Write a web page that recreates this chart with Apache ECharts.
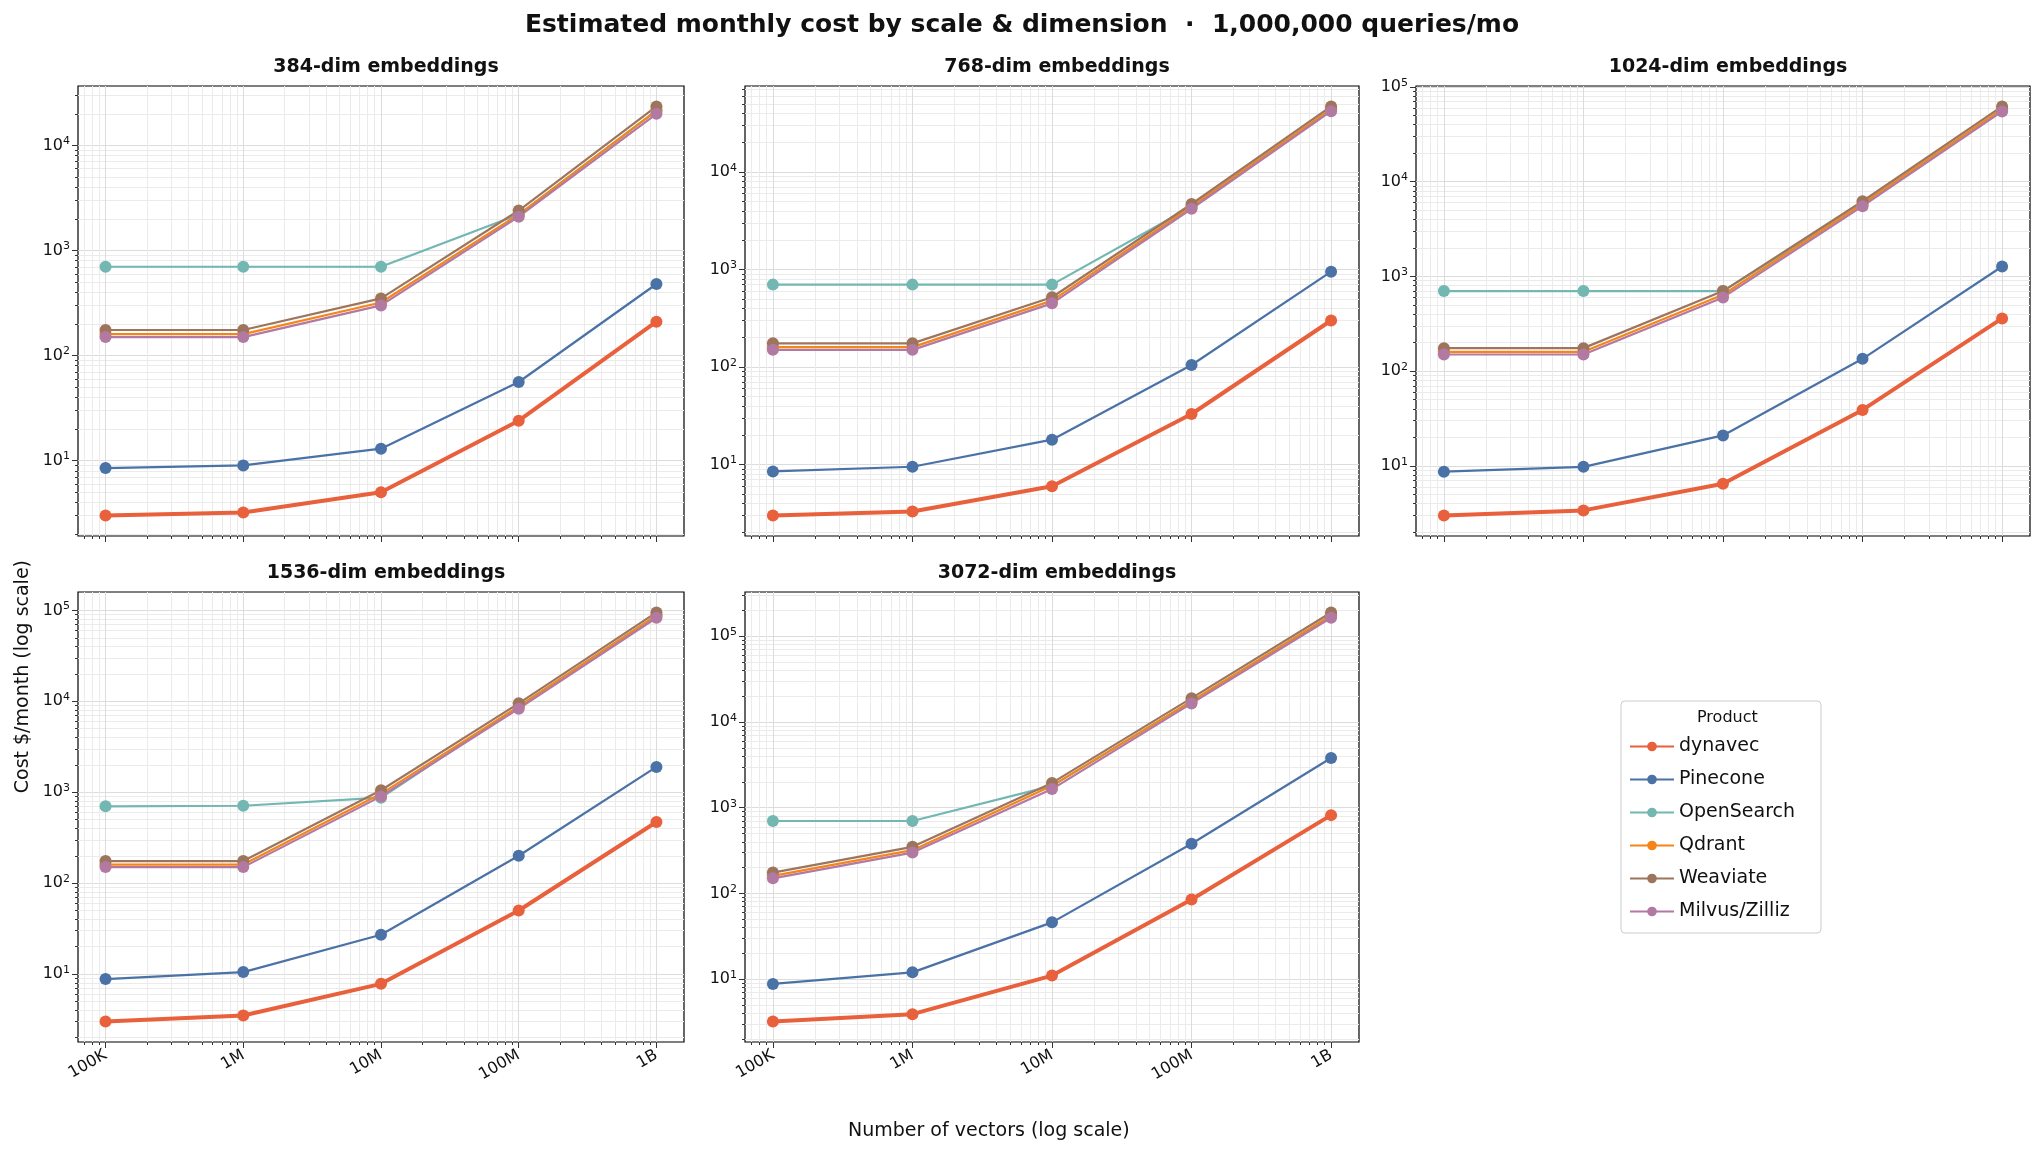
<!DOCTYPE html>
<html>
<head>
<meta charset="utf-8">
<style>
  html, body { margin: 0; padding: 0; background: #fff; }
  #chart { width: 2044px; height: 1160px; }
</style>
</head>
<body>
<div id="chart"></div>
<script src="https://cdn.jsdelivr.net/npm/echarts@6/dist/echarts.min.js"></script>
<script>
// data
var vectorCounts = [1e5, 1e6, 1e7, 1e8, 1e9];
var vectorLabels = ['100K', '1M', '10M', '100M', '1B'];
var dims = ['384', '768', '1024', '1536', '3072'];
var products = ['dynavec', 'Pinecone', 'OpenSearch', 'Qdrant', 'Weaviate', 'Milvus/Zilliz'];

var dynavec = [
  [3, 3.2, 5, 24, 210],
  [3, 3.3, 6, 33, 300],
  [3, 3.4, 6.5, 39, 360],
  [3, 3.5, 7.8, 50, 470],
  [3.2, 3.9, 11, 85, 820]
];
var pinecone = [
  [8.5, 9, 13, 56, 480],
  [8.5, 9.5, 18, 105, 950],
  [8.7, 9.8, 21, 135, 1270],
  [8.8, 10.5, 27, 200, 1900],
  [8.8, 12, 46, 380, 3800]
];
var opensearch = [
  [700, 700, 700, 2200, 21500],
  [700, 700, 700, 4400, 44000],
  [700, 700, 700, 5800, 58000],
  [700, 710, 870, 8800, 88000],
  [700, 700, 1800, 17500, 175000]
];
var qdrant = [
  [160, 160, 320, 2200, 21500],
  [160, 160, 480, 4400, 44000],
  [160, 160, 640, 5800, 58000],
  [160, 160, 960, 8800, 88000],
  [160, 320, 1800, 17500, 175000]
];
var weaviate = [
  [175, 175, 350, 2400, 23500],
  [175, 175, 520, 4700, 47000],
  [175, 175, 700, 6200, 62000],
  [175, 175, 1050, 9500, 95000],
  [175, 350, 1950, 19000, 190000]
];
var milvus = [
  [150, 150, 300, 2100, 20000],
  [150, 150, 450, 4200, 42000],
  [150, 150, 600, 5500, 55000],
  [150, 150, 900, 8300, 83000],
  [150, 300, 1650, 16500, 165000]
];

var allSeries = [dynavec, pinecone, opensearch, qdrant, weaviate, milvus];
var colors = ['#e8603c', '#4a72a6', '#72b7b2', '#f58518', '#9d755d', '#b279a2'];
var widths = [4, 2.2, 2.2, 2.2, 2.2, 2.2];

var rects = [
  {left: 78, top: 86, width: 606, height: 450},
  {left: 745, top: 86, width: 614, height: 450},
  {left: 1416, top: 86, width: 614, height: 450},
  {left: 78, top: 592, width: 606, height: 450},
  {left: 745, top: 592, width: 614, height: 450}
];

function lg(v) { return Math.log10(v); }
function minorList(lo, hi) {
  var out = [];
  for (var e = Math.floor(lo) - 1; e <= Math.ceil(hi); e++) {
    for (var k = 1; k <= 9; k++) {
      var v = e + Math.log10(k);
      if (v >= lo && v <= hi) out.push(v);
    }
  }
  return out;
}
function majorList(lo, hi) {
  var out = [];
  for (var e = Math.ceil(lo); e <= Math.floor(hi); e++) out.push(e);
  return out;
}

var xLo = 4.8, xHi = 9.2;
var grids = [], xAxes = [], yAxes = [], series = [], titles = [];

dims.forEach(function (d, i) {
  var r = rects[i];
  grids.push({left: r.left, top: r.top, width: r.width, height: r.height, show: true,
    borderColor: '#000', borderWidth: 1.2});
  titles.push({text: d + '-dim embeddings', left: r.left + r.width / 2, top: r.top - 33,
    textAlign: 'center', textStyle: {fontSize: 19, fontWeight: 'bold', color: '#111', fontFamily: 'DejaVu Sans'}});

  var vals = [];
  allSeries.forEach(function (s) { vals = vals.concat(s[i]); });
  var ymin = lg(Math.min.apply(null, vals)), ymax = lg(Math.max.apply(null, vals));
  var pad = (ymax - ymin) * 0.05;
  var yLo = ymin - pad, yHi = ymax + pad;
  var showX = (i >= 3);

  // minor grid axes
  xAxes.push({gridIndex: i, type: 'value', min: xLo, max: xHi, position: 'bottom',
    axisLine: {show: false}, axisLabel: {show: false},
    axisTick: {show: true, length: 3, customValues: minorList(xLo, xHi), lineStyle: {color: '#333'}},
    splitLine: {show: true, lineStyle: {color: '#ebebeb', width: 1}}});
  yAxes.push({gridIndex: i, type: 'value', min: yLo, max: yHi, position: 'left',
    axisLine: {show: false}, axisLabel: {show: false},
    axisTick: {show: true, length: 3, customValues: minorList(yLo, yHi), lineStyle: {color: '#333'}},
    splitLine: {show: true, lineStyle: {color: '#ebebeb', width: 1}}});
  // major axes
  xAxes.push({gridIndex: i, type: 'value', min: xLo, max: xHi, position: 'bottom',
    axisLine: {show: false},
    axisTick: {show: true, length: 6, customValues: [5, 6, 7, 8, 9], lineStyle: {color: '#333'}},
    axisLabel: {show: showX, customValues: [5, 6, 7, 8, 9], rotate: 30, fontSize: 16, color: '#111',
      fontFamily: 'DejaVu Sans', margin: 12,
      formatter: function (v) { return vectorLabels[Math.round(v) - 5]; }},
    splitLine: {show: true, lineStyle: {color: '#dcdcdc', width: 1}}});
  var majors = majorList(yLo, yHi);
  yAxes.push({gridIndex: i, type: 'value', min: yLo, max: yHi, position: 'left',
    axisLine: {show: false},
    axisTick: {show: true, length: 6, customValues: majors, lineStyle: {color: '#333'}},
    axisLabel: {customValues: majors, fontSize: 16, color: '#111', fontFamily: 'DejaVu Sans',
      formatter: function (v) { return '10{s|' + Math.round(v) + '}'; },
      rich: {s: {fontSize: 11, verticalAlign: 'top', padding: [0, 0, 8, 0], color: '#111'}}},
    splitLine: {show: true, lineStyle: {color: '#dcdcdc', width: 1}}});

  allSeries.forEach(function (s, k) {
    series.push({
      name: products[k], type: 'line', xAxisIndex: i * 2 + 1, yAxisIndex: i * 2 + 1,
      data: s[i].map(function (v, j) { return [lg(vectorCounts[j]), lg(v)]; }),
      symbol: 'circle', symbolSize: 12, z: k === 0 ? 10 : 3,
      itemStyle: {color: colors[k]},
      lineStyle: {color: colors[k], width: widths[k]}
    });
  });
});

titles.push({text: 'Estimated monthly cost by scale & dimension  ·  1,000,000 queries/mo', left: 'center', top: 8,
  textStyle: {fontSize: 25, fontWeight: 'bold', color: '#111', fontFamily: 'DejaVu Sans'}});

var chart = echarts.init(document.getElementById('chart'));
chart.setOption({
  animation: false,
  title: titles,
  grid: grids,
  xAxis: xAxes,
  yAxis: yAxes,
  legend: {
    data: products, orient: 'vertical', left: 1621, top: 701,
    itemWidth: 44, itemHeight: 12, itemGap: 14,
    textStyle: {fontSize: 19, color: '#111', fontFamily: 'DejaVu Sans'},
    borderColor: '#ccc', borderWidth: 1, borderRadius: 4, padding: [36, 26, 12, 8]
  },
  graphic: [
    {type: 'text', left: 1697, top: 710, z: 100, style: {text: 'Product', fontSize: 16, fill: '#111', fontFamily: 'DejaVu Sans'}},
    {type: 'text', left: 14, top: 560, rotation: Math.PI / 2, originX: 0, originY: 0,
      style: {text: 'Cost $/month (log scale)', fontSize: 19, fill: '#111', fontFamily: 'DejaVu Sans',
        align: 'center', verticalAlign: 'top'}},
    {type: 'text', left: 848, top: 1122,
      style: {text: 'Number of vectors (log scale)', fontSize: 19, fill: '#111', fontFamily: 'DejaVu Sans'}}
  ],
  series: series
});
</script>
</body>
</html>
